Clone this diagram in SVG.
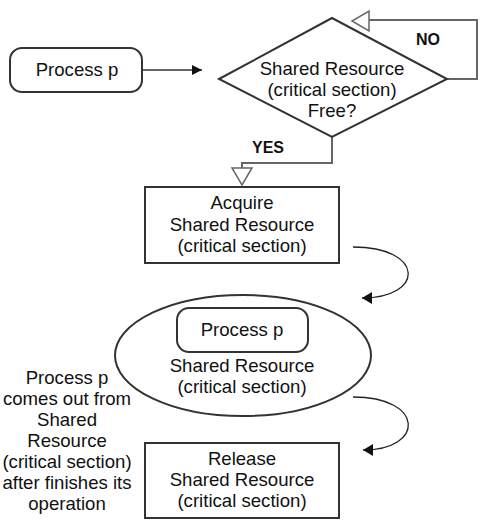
<svg xmlns="http://www.w3.org/2000/svg" width="486" height="530" viewBox="0 0 486 530">
<defs>
<style>
.box{fill:#fff;stroke:#333;stroke-width:2}
.t{font-family:"Liberation Sans",Arial,sans-serif;font-size:18.6px;fill:#111;text-anchor:middle}
.b{font-family:"Liberation Sans",Arial,sans-serif;font-size:16px;font-weight:bold;fill:#111;text-anchor:middle}
.g{fill:none;stroke:#666;stroke-width:2}
.k{fill:none;stroke:#222;stroke-width:1.3}
.hollow{fill:#fff;stroke:#666;stroke-width:1.5}
</style>
<marker id="fa" viewBox="0 0 10 10" refX="10" refY="5" markerWidth="10" markerHeight="10" markerUnits="userSpaceOnUse" orient="auto"><path d="M0,0 L10,5 L0,10 z" fill="#111"/></marker>
<marker id="fb" viewBox="0 0 10 12" refX="10" refY="6" markerWidth="10" markerHeight="12" markerUnits="userSpaceOnUse" orient="auto"><path d="M0,0 L10,6 L0,12 z" fill="#111"/></marker>
</defs>
<rect width="486" height="530" fill="#fff"/>
<g id="connectors">
<line x1="142" y1="70" x2="202" y2="70" class="g" marker-end="url(#fa)"/>
<polyline points="447,79 477,79 477,20 369,20" class="g"/>
<polygon points="369,11 369,31 352,21" class="hollow"/>
<polyline points="332,137 332,163 242,163 242,168" class="g"/>
<polygon points="232,168 252,168 242,185" class="hollow"/>
<path d="M353,247 C425,247 425,298 362,298" class="k" marker-end="url(#fb)"/>
<path d="M353,397 C425,397 425,450 363,450" class="k" marker-end="url(#fb)"/>
</g>
<g id="process_p">
<rect x="10" y="48" width="132" height="44" rx="12" class="box"/>
<text x="77" y="76" class="t">Process p</text>
</g>
<g id="decision">
<polygon points="219,79 332,18 447,79 332,137" class="box"/>
<text x="332" y="75" class="t">Shared Resource</text>
<text x="332" y="96" class="t">(critical section)</text>
<text x="332" y="117" class="t">Free?</text>
</g>
<g id="label_no"><text x="428" y="45" class="b">NO</text></g>
<g id="label_yes"><text x="268" y="153" class="b">YES</text></g>
<g id="acquire">
<rect x="145" y="187" width="194" height="76" class="box"/>
<text x="242" y="209" class="t">Acquire</text>
<text x="242" y="231" class="t">Shared Resource</text>
<text x="242" y="252" class="t">(critical section)</text>
</g>
<g id="critical_section">
<ellipse cx="243" cy="355.5" rx="128" ry="60.5" class="box"/>
<rect x="177" y="308" width="131" height="44" rx="12" class="box"/>
<text x="242" y="336" class="t">Process p</text>
<text x="242" y="372" class="t">Shared Resource</text>
<text x="242" y="393" class="t">(critical section)</text>
</g>
<g id="note">
<text x="67" y="384" class="t">Process p</text>
<text x="67" y="405" class="t">comes out from</text>
<text x="67" y="426" class="t">Shared</text>
<text x="67" y="447" class="t">Resource</text>
<text x="67" y="468" class="t">(critical section)</text>
<text x="67" y="489" class="t">after finishes its</text>
<text x="67" y="510" class="t">operation</text>
</g>
<g id="release">
<rect x="145" y="443" width="194" height="75" class="box"/>
<text x="242" y="465" class="t">Release</text>
<text x="242" y="486" class="t">Shared Resource</text>
<text x="242" y="507" class="t">(critical section)</text>
</g>
</svg>
